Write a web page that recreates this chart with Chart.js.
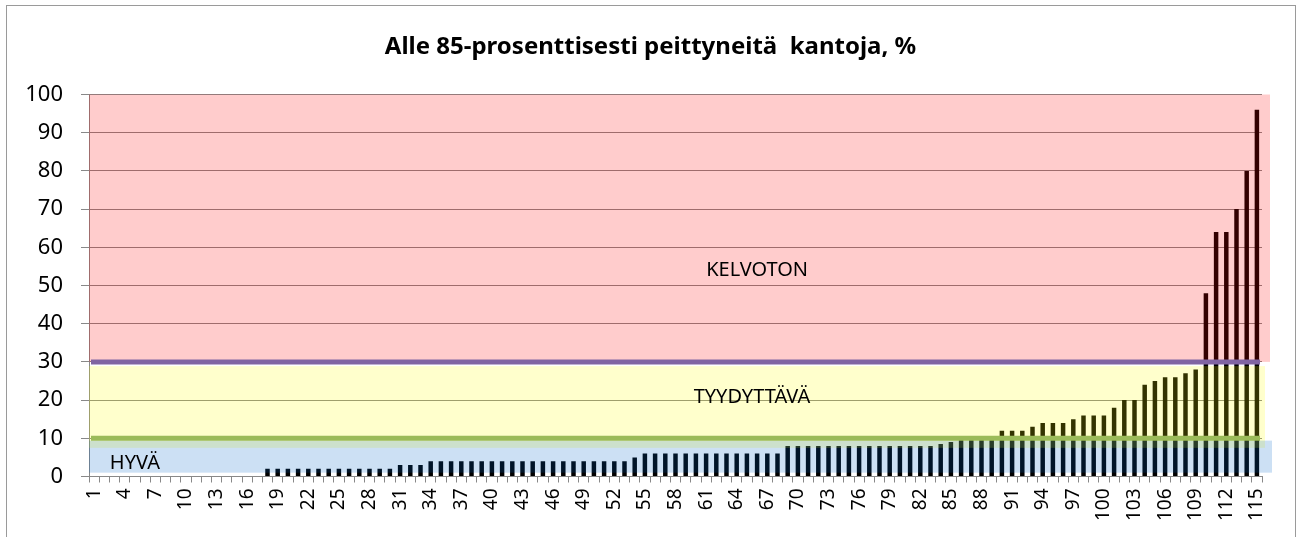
<!DOCTYPE html>
<html>
<head>
<meta charset="utf-8">
<script src="https://cdn.jsdelivr.net/npm/chart.js@4.4.0/dist/chart.umd.min.js"></script>
<style>
  body { margin: 0; background: #fff; overflow: hidden; }
  #wrap { position: relative; width: 1301px; height: 537px; }
  #frame { position: absolute; left: 6px; top: 5px; width: 1290px; height: 600px; border: 1px solid #9a9a9a; box-sizing: border-box; pointer-events: none; }
</style>
</head>
<body>
<div id="wrap">
  <canvas id="chart"></canvas>
  <div id="frame"></div>
</div>
<script>
  // kannot 1..115
  const categories = ["1","2","3","4","5","6","7","8","9","10","11","12","13","14","15","16","17","18","19","20",
    "21","22","23","24","25","26","27","28","29","30","31","32","33","34","35","36","37","38","39","40",
    "41","42","43","44","45","46","47","48","49","50","51","52","53","54","55","56","57","58","59","60",
    "61","62","63","64","65","66","67","68","69","70","71","72","73","74","75","76","77","78","79","80",
    "81","82","83","84","85","86","87","88","89","90","91","92","93","94","95","96","97","98","99","100",
    "101","102","103","104","105","106","107","108","109","110","111","112","113","114","115"];

  // alle 85 % peittyneitä kantoja, %
  const values = [0,0,0,0,0,0,0,0,0,0,0,0,0,0,0,0,0,2,2,2,
    2,2,2,2,2,2,2,2,2,2,3,3,3,4,4,4,4,4,4,4,
    4,4,4,4,4,4,4,4,4,4,4,4,4,5,6,6,6,6,6,6,
    6,6,6,6,6,6,6,6,8,8,8,8,8,8,8,8,8,8,8,8,
    8,8,8,8.5,9,10,10,10,10,12,12,12,13,14,14,14,15,16,16,16,
    18,20,20,24,25,26,26,27,28,48,64,64,70,80,96];

  const yTicks = [0,10,20,30,40,50,60,70,80,90,100];

  const title = "Alle 85-prosenttisesti peittyneitä  kantoja, %";

  // luokkarajat ja nimet
  const classNames = ["KELVOTON", "TYYDYTTÄVÄ", "HYVÄ"];
  const classLimits = [30, 10];

  const FONT = "'Noto Sans', 'Open Sans', sans-serif";

  // taustavyöhykkeet piirretään palkkien päälle läpikuultavina
  const bandPlugin = {
    id: "bands",
    afterDatasetsDraw(chart) {
      const ctx = chart.ctx;
      const a = chart.chartArea;
      const y = chart.scales.y;
      const x = chart.scales.x;
      const band = (from, to, color, extra) => {
        const top = y.getPixelForValue(to);
        const bottom = y.getPixelForValue(from);
        ctx.fillStyle = color;
        ctx.fillRect(a.left, top, a.right + extra - a.left, bottom - top);
      };
      ctx.save();
      band(30, 100, "rgba(255,0,0,0.2)", 8);
      band(7.5, 28.9, "rgba(255,255,0,0.2)", 3);
      band(1, 9.4, "rgba(0,100,200,0.2)", 10);

      // raja-viivat
      const line = (v, color) => {
        const py = y.getPixelForValue(v);
        ctx.strokeStyle = color;
        ctx.lineWidth = 5;
        ctx.beginPath();
        ctx.moveTo(a.left + 2, py);
        ctx.lineTo(a.right - 2, py);
        ctx.stroke();
      };
      line(classLimits[0], "#8064A2");
      line(classLimits[1], "#9BBB59");

      ctx.fillStyle = "#000";
      ctx.font = "20px " + FONT;
      ctx.textAlign = "center";
      ctx.textBaseline = "middle";
      ctx.fillText(classNames[0], x.getPixelForValue(65), y.getPixelForValue(54));
      ctx.fillText(classNames[1], x.getPixelForValue(64.5), y.getPixelForValue(20.8));
      ctx.fillText(classNames[2], x.getPixelForValue(4), y.getPixelForValue(3.5));

      // otsikko koko kuvan keskelle
      ctx.font = "bold 24px " + FONT;
      ctx.fillText(title, chart.width / 2, 47);
      ctx.restore();
    }
  };

  const context = document.getElementById("chart");
  const myChart = new Chart(context, {
    type: "bar",
    data: {
      labels: categories,
      datasets: [{
        data: values,
        backgroundColor: "#000",
        barPercentage: 0.44,
        categoryPercentage: 1
      }]
    },
    options: {
      responsive: true,
      maintainAspectRatio: false,
      animation: false,
      layout: { padding: { left: 0, right: 39, top: 94.5, bottom: 0 } },
      plugins: {
        legend: { display: false },
        tooltip: { enabled: false },
        title: { display: false }
      },
      scales: {
        x: {
          grid: { display: true, drawOnChartArea: false, color: "#888", tickLength: 6 },
          border: { color: "#888" },
          ticks: {
            autoSkip: false,
            minRotation: 90,
            maxRotation: 90,
            padding: 6,
            color: "#000",
            font: { family: FONT, size: 19 },
            callback: (v, i) => (i % 3 === 0 ? categories[i] : "")
          },
          afterFit(scale) { scale.height = 60.5; }
        },
        y: {
          min: 0,
          max: 100,
          afterBuildTicks(scale) { scale.ticks = yTicks.map(v => ({ value: v })); },
          grid: { color: "#888", tickLength: 8 },
          border: { color: "#888" },
          ticks: {
            padding: 18,
            color: "#000",
            font: { family: FONT, size: 22 }
          },
          afterFit(scale) { scale.width = 89; }
        }
      }
    },
    plugins: [bandPlugin]
  });
</script>
</body>
</html>
